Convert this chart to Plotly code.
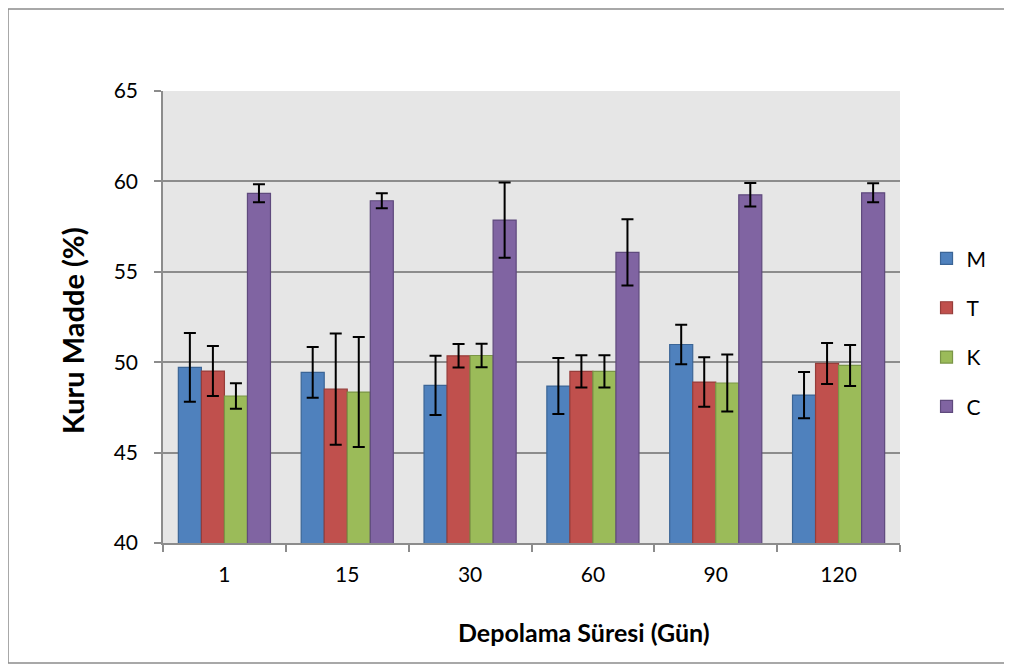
import plotly.graph_objects as go

categories = ["1", "15", "30", "60", "90", "120"]
series_names = ["M", "T", "K", "C"]
M_vals = [49.71, 49.44, 48.72, 48.68, 50.98, 48.18]
M_err = [1.9, 1.4, 1.64, 1.55, 1.09, 1.28]
T_vals = [49.51, 48.51, 50.35, 49.49, 48.90, 49.93]
T_err = [1.38, 3.08, 0.65, 0.89, 1.37, 1.13]
K_vals = [48.13, 48.35, 50.37, 49.49, 48.85, 49.82]
K_err = [0.71, 3.04, 0.65, 0.89, 1.57, 1.13]
C_vals = [59.34, 58.93, 57.86, 56.07, 59.26, 59.37]
C_err = [0.5, 0.41, 2.08, 1.83, 0.65, 0.53]
y_ticks = [40, 45, 50, 55, 60, 65]

colors = ["#4F81BD", "#C0504D", "#9BBB59", "#8064A2"]
edges = ["#3B6596", "#963D3A", "#7A9546", "#5F4A7D"]

fig = go.Figure()
for name, vals, errs, c, e in zip(series_names, [M_vals, T_vals, K_vals, C_vals],
                                   [M_err, T_err, K_err, C_err], colors, edges):
    fig.add_trace(go.Bar(
        name=name, x=categories, y=vals,
        marker=dict(color=c, line=dict(color=e, width=1.2)),
        error_y=dict(type="data", array=errs, visible=True, color="black",
                     thickness=2, width=6),
        legendgroup=name,
    ))

font_family = "Lato, 'Open Sans', 'Liberation Sans', sans-serif"

# page has an 8px body margin; figure is sized to compensate
PW, PH = 737, 452
fig.update_layout(
    width=1004, height=660,
    margin=dict(l=155, r=112, t=83, b=125),
    paper_bgcolor="white",
    plot_bgcolor="#E6E6E6",
    barmode="group",
    bargap=0.25,
    bargroupgap=0,
    font=dict(family=font_family, size=21, color="black"),
    showlegend=True,
    legend=dict(x=1.036, y=0.465, xanchor="left", yanchor="middle",
                font=dict(size=21), tracegroupgap=19,
                bgcolor="rgba(0,0,0,0)"),
    xaxis=dict(type="category", showline=True, linecolor="#8C8C8C", linewidth=1.5,
               ticks="outside", tickson="boundaries", ticklen=7, tickcolor="#8C8C8C",
               tickwidth=1.5, showgrid=False, tickfont=dict(size=21),
               ticklabelstandoff=12),
    yaxis=dict(range=[40, 65], tickvals=y_ticks, showline=True, linecolor="#8C8C8C",
               linewidth=1.5, ticks="outside", ticklen=7, tickcolor="#8C8C8C",
               tickwidth=1.5, showgrid=True, gridcolor="#8C8C8C", gridwidth=1.5,
               zeroline=False, tickfont=dict(size=21), ticklabelstandoff=12),
    annotations=[
        dict(text="<b>Kuru Madde (%)</b>", xref="paper", yref="paper",
             x=(72 - 163) / PW, y=(543 - 331) / PH, textangle=-90, showarrow=False,
             font=dict(size=29, family=font_family), xanchor="center", yanchor="middle"),
        dict(text="<b>Depolama Süresi (Gün)</b>", xref="paper", yref="paper",
             x=(584 - 163) / PW, y=(543 - 632) / PH, showarrow=False,
             font=dict(size=25, family=font_family), xanchor="center", yanchor="middle"),
    ],
    shapes=[
        dict(type="rect", xref="paper", yref="paper",
             x0=(8 - 163) / PW, x1=(1006 - 163) / PW,
             y0=(543 - 663) / PH, y1=(543 - 9) / PH,
             line=dict(color="#8C8C8C", width=1.5), fillcolor="rgba(0,0,0,0)",
             layer="below"),
    ],
)

fig.write_html("out.html")
